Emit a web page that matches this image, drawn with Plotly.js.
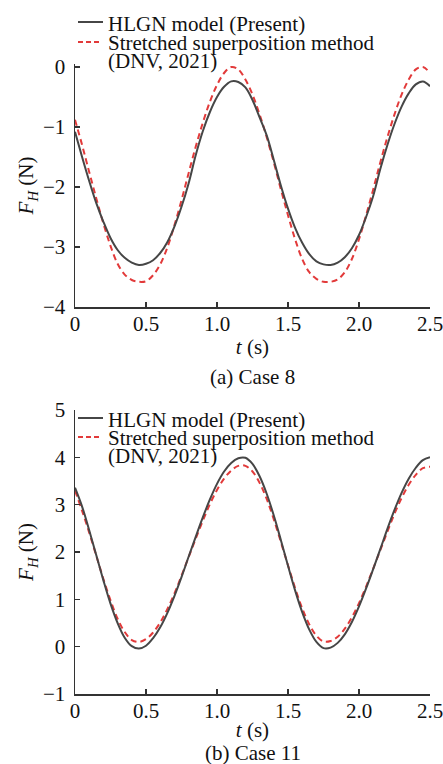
<!DOCTYPE html>
<html>
<head>
<meta charset="utf-8">
<script src="https://cdn.plot.ly/plotly-3.0.1.min.js"></script>
<style>html,body{margin:0;padding:0;background:#fff;}#chart{width:443px;height:764px;}</style>
</head>
<body>
<div id="chart"></div>
<script>
// time axis (s), shared by all series
const timeS = [0.00,0.05,0.10,0.15,0.20,0.25,0.30,0.35,0.40,0.45,0.50,0.55,0.60,0.65,0.70,0.75,0.80,0.85,0.90,0.95,1.00,1.05,1.10,1.15,1.20,1.25,1.30,1.35,1.40,1.45,1.50,1.55,1.60,1.65,1.70,1.75,1.80,1.85,1.90,1.95,2.00,2.05,2.10,2.15,2.20,2.25,2.30,2.35,2.40,2.45,2.50];

// (a) Case 8
const case8HLGN = [-1.08,-1.50,-1.90,-2.27,-2.58,-2.85,-3.05,-3.18,-3.26,-3.30,-3.28,-3.22,-3.10,-2.92,-2.66,-2.33,-1.94,-1.47,-1.07,-0.75,-0.50,-0.33,-0.24,-0.25,-0.34,-0.55,-0.84,-1.14,-1.55,-1.98,-2.36,-2.68,-2.93,-3.12,-3.24,-3.29,-3.30,-3.26,-3.17,-3.02,-2.80,-2.50,-2.15,-1.70,-1.30,-0.95,-0.66,-0.44,-0.29,-0.24,-0.32];
const case8DNV = [-0.88,-1.30,-1.75,-2.19,-2.61,-2.98,-3.28,-3.46,-3.55,-3.58,-3.57,-3.47,-3.29,-3.01,-2.64,-2.22,-1.77,-1.33,-0.93,-0.58,-0.30,-0.10,0.00,-0.04,-0.21,-0.46,-0.79,-1.17,-1.59,-2.04,-2.47,-2.87,-3.20,-3.42,-3.53,-3.58,-3.58,-3.54,-3.42,-3.20,-2.87,-2.47,-2.04,-1.59,-1.17,-0.79,-0.46,-0.21,-0.04,0.00,-0.10];

// (b) Case 11
const case11HLGN = [3.36,2.96,2.46,1.93,1.40,0.91,0.50,0.19,0.01,-0.04,0.02,0.18,0.41,0.71,1.07,1.47,1.90,2.32,2.73,3.11,3.44,3.70,3.88,3.98,3.99,3.86,3.60,3.23,2.77,2.25,1.71,1.19,0.73,0.36,0.10,-0.03,-0.02,0.08,0.26,0.52,0.85,1.23,1.64,2.06,2.49,2.89,3.25,3.55,3.78,3.94,4.00];
const case11DNV = [3.30,2.87,2.41,1.92,1.43,0.98,0.59,0.31,0.14,0.10,0.16,0.30,0.51,0.79,1.12,1.50,1.89,2.28,2.66,3.01,3.31,3.55,3.72,3.82,3.82,3.70,3.46,3.12,2.69,2.21,1.72,1.24,0.81,0.47,0.23,0.11,0.12,0.21,0.38,0.62,0.92,1.27,1.65,2.04,2.43,2.81,3.14,3.42,3.63,3.77,3.80];

const legendNames = ["HLGN model (Present)", "Stretched superposition method", "(DNV, 2021)"];
const panelLabels = ["(a) Case 8", "(b) Case 11"];
const xTicks = [0, 0.5, 1.0, 1.5, 2.0, 2.5];
const xTickText = ["0", "0.5", "1.0", "1.5", "2.0", "2.5"];

const FONT = "'Liberation Serif', 'Times New Roman', serif";
const SOLID = "#464646";
const RED = "#e23a3a";

function tr(y, xa, ya, solid, name) {
  return {
    x: timeS, y: y, xaxis: xa, yaxis: ya, type: "scatter", mode: "lines", name: name,
    line: solid ? {color: SOLID, width: 2, shape: "spline"} : {color: RED, width: 2, dash: "6px,4px", shape: "spline"},
    showlegend: false, hoverinfo: "skip"
  };
}

const data = [
  tr(case8DNV, "x", "y", false, legendNames[1]),
  tr(case8HLGN, "x", "y", true, legendNames[0]),
  tr(case11DNV, "x2", "y2", false, legendNames[1]),
  tr(case11HLGN, "x2", "y2", true, legendNames[0])
];

const H = 764;
function py(p) { return 1 - p / H; }

function axCommon() {
  return {
    showline: true, linecolor: "#333", linewidth: 1.5,
    ticks: "inside", ticklen: 5, tickwidth: 1.5, tickcolor: "#333",
    showgrid: false, zeroline: false,
    tickfont: {family: FONT, size: 21, color: "#111"}
  };
}

function xAxis(anchor, standoff) {
  return Object.assign(axCommon(), {
    anchor: anchor, domain: [0, 1],
    range: [0, 2.5], tickvals: xTicks, ticktext: xTickText,
    ticklabeloverflow: "allow", ticklabelstandoff: -3,
    title: {text: "<i>t</i> (s)", font: {family: FONT, size: 21, color: "#111"}, standoff: standoff}
  });
}

function yAxis(anchor, domain, range, ticks) {
  return Object.assign(axCommon(), {
    anchor: anchor, domain: domain, range: range,
    tickvals: ticks, ticklabelstandoff: 4,
    title: {text: "<i>F</i><sub><i>H</i></sub> (N)", font: {family: FONT, size: 21, color: "#111"}, standoff: 3}
  });
}

const layout = {
  width: 443, height: 764,
  margin: {l: 75, r: 13, t: 0, b: 0},
  paper_bgcolor: "#fff", plot_bgcolor: "#fff",
  showlegend: false,
  xaxis: xAxis("y", 4),
  xaxis2: xAxis("y2", 0),
  yaxis: yAxis("x", [py(307), py(64)], [-4, 0.05], [-4, -3, -2, -1, 0]),
  yaxis2: yAxis("x2", [py(694), py(410)], [-1, 5], [-1, 0, 1, 2, 3, 4, 5]),
  annotations: [],
  shapes: []
};

function addLegend(y1, y2, y3) {
  const tf = {family: FONT, size: 21, color: "#111"};
  [[legendNames[0], y1], [legendNames[1], y2], [legendNames[2], y3]].forEach(function (p) {
    layout.annotations.push({text: p[0], xref: "paper", yref: "paper", x: (106 - 75) / 355, y: py(p[1]),
      xanchor: "left", yanchor: "middle", showarrow: false, font: tf});
  });
  layout.shapes.push({type: "line", xref: "paper", yref: "paper", x0: (78 - 75) / 355, x1: (103 - 75) / 355,
    y0: py(y1 - 2), y1: py(y1 - 2), line: {color: SOLID, width: 2}});
  layout.shapes.push({type: "line", xref: "paper", yref: "paper", x0: (78 - 75) / 355, x1: (102 - 75) / 355,
    y0: py(y2 - 1), y1: py(y2 - 1), line: {color: RED, width: 2, dash: "5px,3px"}});
}
addLegend(24, 43, 61);
addLegend(420, 438, 456);

layout.annotations.push({text: panelLabels[0], xref: "paper", yref: "paper", x: 0.5, y: py(377),
  xanchor: "center", yanchor: "middle", showarrow: false, font: {family: FONT, size: 21, color: "#111"}});
layout.annotations.push({text: panelLabels[1], xref: "paper", yref: "paper", x: 0.5, y: py(753),
  xanchor: "center", yanchor: "middle", showarrow: false, font: {family: FONT, size: 21, color: "#111"}});

Plotly.newPlot("chart", data, layout, {displayModeBar: false, staticPlot: true});
</script>
</body>
</html>
